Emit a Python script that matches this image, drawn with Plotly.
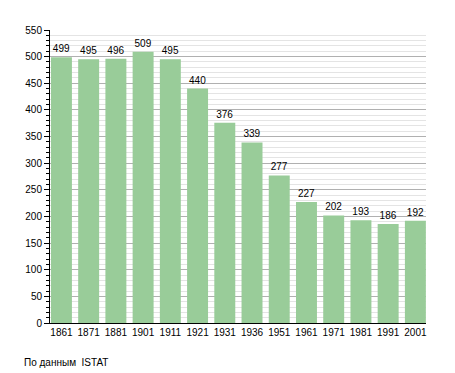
import plotly.graph_objects as go

years = ["1861", "1871", "1881", "1901", "1911", "1921", "1931", "1936",
         "1951", "1961", "1971", "1981", "1991", "2001"]
population = [499, 495, 496, 509, 495, 440, 376, 339, 277, 227, 202, 193, 186, 192]
source_text = "По данным  ISTAT"

# page body has 8px default margin; figure is sized to compensate
W, H = 447, 365
L, R, T, B = 42, 29, 22, 50
PW, PH = W - L - R, H - T - B

fig = go.Figure(go.Bar(
    x=years, y=population,
    marker=dict(color="#99cc99", line=dict(width=0)),
    width=0.77,
    text=[str(v) for v in population],
    textposition="outside",
    textfont=dict(family="Liberation Sans, Arial", size=10, color="black"),
    cliponaxis=False,
))

fig.update_layout(
    width=W, height=H,
    margin=dict(l=L, r=R, t=T, b=B, autoexpand=False),
    paper_bgcolor="white", plot_bgcolor="white",
    showlegend=False,
    font=dict(family="Liberation Sans, Arial", size=10, color="black"),
    xaxis=dict(
        type="category",
        range=[-0.42, 13.39],
        showline=True, linecolor="black", linewidth=1,
        ticks="", showgrid=False,
        tickfont=dict(size=10),
        automargin=False,
    ),
    yaxis=dict(
        range=[0, 550],
        dtick=50, tick0=0,
        showline=True, linecolor="black", linewidth=1,
        ticks="outside", ticklen=5, tickcolor="black",
        showgrid=True, gridcolor="#b0b0b0", gridwidth=1,
        zeroline=False,
        tickfont=dict(size=10),
        automargin=False,
        minor=dict(dtick=10, ticks="outside", ticklen=3, tickcolor="black",
                   showgrid=True, gridcolor="#e4e4e4", gridwidth=1),
    ),
    annotations=[dict(
        text=source_text, xref="paper", yref="paper",
        x=(14 - L) / PW, y=-39 / PH, xanchor="left", yanchor="middle",
        showarrow=False, font=dict(size=10, color="black"),
    )],
)

fig.write_html("out.html")
